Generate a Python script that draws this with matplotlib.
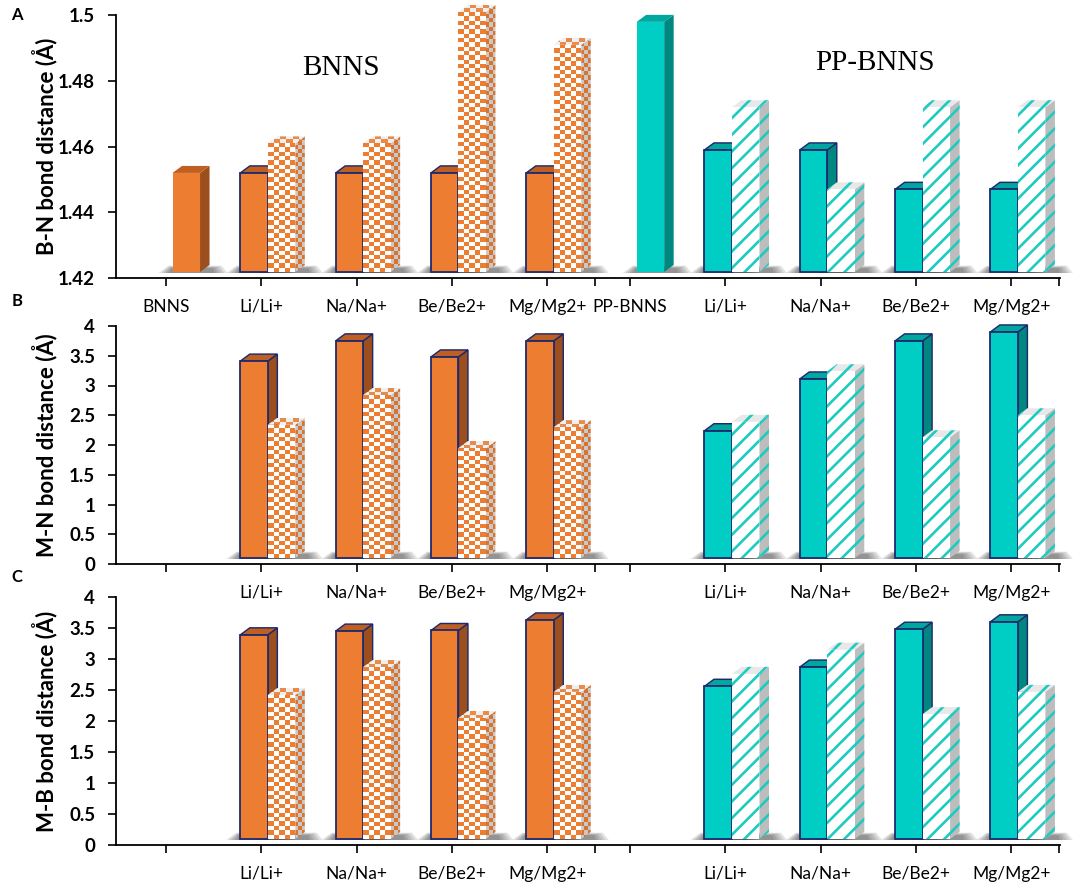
import numpy as np
import matplotlib
matplotlib.use('Agg')
import matplotlib.pyplot as plt
from matplotlib.patches import Polygon
from matplotlib.colors import ListedColormap
from matplotlib.ticker import FormatStrFormatter

plt.rcParams['font.family'] = ['Lato', 'DejaVu Sans']
plt.rcParams['hatch.linewidth'] = 1.9

nan = np.nan
categories = ['BNNS', 'Li/Li+', 'Na/Na+', 'Be/Be2+', 'Mg/Mg2+',
              'PP-BNNS', 'Li/Li+', 'Na/Na+', 'Be/Be2+', 'Mg/Mg2+']

# A : B-N bond distance
bn_pristine = [1.452, nan, nan, nan, nan, 1.498, nan, nan, nan, nan]
bn_neutral = [nan, 1.452, 1.452, 1.452, 1.452, nan, 1.459, 1.459, 1.447, 1.447]
bn_ion = [nan, 1.461, 1.461, 1.501, 1.491, nan, 1.472, 1.447, 1.472, 1.472]

# B : M-N bond distance
mn_neutral = [nan, 3.41, 3.75, 3.48, 3.75, nan, 2.24, 3.11, 3.75, 3.90]
mn_ion = [nan, 2.34, 2.84, 1.95, 2.30, nan, 2.39, 3.24, 2.13, 2.50]

# C : M-B bond distance
mb_neutral = [nan, 3.39, 3.45, 3.46, 3.63, nan, 2.56, 2.87, 3.48, 3.60]
mb_ion = [nan, 2.42, 2.87, 2.05, 2.47, nan, 2.76, 3.15, 2.11, 2.47]

ORANGE = dict(front='#ED7D31', side='#9C4F1C', top='#BF5F21',
              pat_side=['#C8C8C8', '#D8742F'], pat_top=['#EFEFEF', '#E88A4A'])
TEAL = dict(front='#00CDC3', side='#00877F', top='#00A79E', stripe='#1CCBC2')
EDGE = '#1F2A6E'

W, H = 1084, 883
fig = plt.figure(figsize=(W / 100, H / 100), dpi=100)

# axes boxes in pixels: left, top, right, bottom
boxes = [(116, 15.3, 1060, 278), (116, 326, 1060, 564), (116, 597, 1060, 845)]
xlim = (-0.525, 9.38)
pos = np.arange(10) - np.where(np.arange(10) >= 5, 0.13, 0.0)


def checker_fill(ax, poly, extent, nr, nc, colors, z):
    clip = Polygon(poly, closed=True, facecolor='none', edgecolor='none',
                   transform=ax.transData, clip_on=False)
    ax.add_patch(clip)
    arr = np.indices((nr, nc)).sum(axis=0) % 2
    im = ax.imshow(arr, extent=extent, origin='lower', aspect='auto',
                   interpolation='nearest', cmap=ListedColormap(colors),
                   vmin=0, vmax=1, zorder=z)
    im.set_clip_box(fig.bbox)
    im.set_clip_path(clip)


def draw_bar(ax, x0, w, y0, y1, dx, dy, pxx, pxy, col, kind, z):
    front = [(x0, y0), (x0 + w, y0), (x0 + w, y1), (x0, y1)]
    side = [(x0 + w, y0), (x0 + w + dx, y0 + dy), (x0 + w + dx, y1 + dy), (x0 + w, y1)]
    top = [(x0, y1), (x0 + dx, y1 + dy), (x0 + w + dx, y1 + dy), (x0 + w, y1)]

    # soft floor shadow, darker close to the bar
    for k in range(5):
        g = 1 - k * 0.18
        sh = [(x0 - 14 * pxx * g, y0 - 1 * pxy), (x0 + w + dx + 18 * pxx * g, y0 - 1 * pxy),
              (x0 + w + dx + 12 * pxx * g, y0 + dy * (0.4 + 0.5 * g)),
              (x0 - 4 * pxx * g, y0 + dy * (0.4 + 0.5 * g))]
        ax.add_patch(Polygon(sh, closed=True, facecolor='#2a2a2a', edgecolor='none',
                             alpha=0.13, zorder=1, clip_on=False))

    if kind in ('solid', 'plain'):
        ec = EDGE if kind == 'solid' else 'none'
        lw = 1.3 if kind == 'solid' else 0
        ax.add_patch(Polygon(side, closed=True, facecolor=col['side'], edgecolor=ec,
                             lw=lw * 0.8, zorder=z, clip_on=False))
        ax.add_patch(Polygon(top, closed=True, facecolor=col['top'], edgecolor=ec,
                             lw=lw * 0.8, zorder=z, clip_on=False))
        ax.add_patch(Polygon(front, closed=True, facecolor=col['front'], edgecolor=ec,
                             lw=lw, zorder=z + 0.1, clip_on=False))
    elif kind == 'checker':
        hpx = (y1 - y0) / pxy
        nr = max(1, int(round(hpx / 4.3)))
        checker_fill(ax, front, [x0, x0 + w, y0, y1], nr, 5,
                     ['white', col['front']], z + 0.1)
        checker_fill(ax, side, [x0 + w, x0 + w + dx, y0, y1 + dy], nr + 2, 3,
                     col['pat_side'], z)
        checker_fill(ax, top, [x0, x0 + w + dx, y1, y1 + dy], 2, 6,
                     col['pat_top'], z)
    elif kind == 'stripe':
        ax.add_patch(Polygon(side, closed=True, facecolor='#BDBDBD', edgecolor=col['stripe'],
                             hatch='//', lw=0, zorder=z, clip_on=False))
        ax.add_patch(Polygon(top, closed=True, facecolor='#E8E8E8', edgecolor=col['stripe'],
                             hatch='//', lw=0, zorder=z, clip_on=False))
        ax.add_patch(Polygon(front, closed=True, facecolor='white', edgecolor=col['stripe'],
                             hatch='//', lw=0, zorder=z + 0.1, clip_on=False))


panels = [
    ('A', 'B-N bond distance (Å)', bn_neutral, bn_ion, bn_pristine, (1.42, 1.5), 0.02, True),
    ('B', 'M-N bond distance (Å)', mn_neutral, mn_ion, None, (0.0, 4.0), 0.5, False),
    ('C', 'M-B bond distance (Å)', mb_neutral, mb_ion, None, (0.0, 4.0), 0.5, False),
]

for (letter, ylabel, neutral, ion, pristine, ylim, step, show_all), box in zip(panels, boxes):
    l, t, r, b = box
    ax = fig.add_axes([l / W, 1 - b / H, (r - l) / W, (b - t) / H])
    ax.patch.set_visible(False)
    ax.set_autoscale_on(False)
    ax.set_xlim(*xlim)
    ax.set_ylim(*ylim)

    pxx = (xlim[1] - xlim[0]) / (r - l)      # data x per pixel
    pxy = (ylim[1] - ylim[0]) / (b - t)      # data y per pixel
    dx, dy = 9.5 * pxx, 7 * pxy
    bw = 27.5 * pxx
    y0 = ylim[0] + 6 * pxy
    off_n, off_i = -21 * pxx, 6.5 * pxx

    for i in range(len(categories)):
        col = ORANGE if i < 5 else TEAL
        pat = 'checker' if i < 5 else 'stripe'
        z = 3 + i * 0.01
        if pristine is not None and not np.isnan(pristine[i]):
            draw_bar(ax, pos[i] + off_i, bw, y0, pristine[i], dx, dy, pxx, pxy, col, 'plain', z)
        if not np.isnan(neutral[i]):
            draw_bar(ax, pos[i] + off_n, bw, y0, neutral[i], dx, dy, pxx, pxy, col, 'solid', z)
        if not np.isnan(ion[i]):
            draw_bar(ax, pos[i] + off_i, bw, y0, ion[i], dx, dy, pxx, pxy, col, pat, z + 1)

    ax.set_xlim(*xlim)
    ax.set_ylim(*ylim)

    for s in ['top', 'right']:
        ax.spines[s].set_visible(False)
    for s in ['left', 'bottom']:
        ax.spines[s].set_linewidth(1.3)

    ax.set_yticks(np.arange(ylim[0], ylim[1] + step / 2, step))
    ax.yaxis.set_major_formatter(FormatStrFormatter('%g'))
    ax.set_xticks(pos)
    if show_all:
        ax.set_xticklabels(categories)
    else:
        ax.set_xticklabels(['' if c in ('BNNS', 'PP-BNNS') else c for c in categories])
    ax.set_xticks([4.5, xlim[1] - 0.01], minor=True)
    ax.tick_params(axis='x', which='both', direction='out', length=6, width=1.2,
                   pad=9, labelsize=12.5)
    ax.tick_params(axis='y', direction='out', length=6, width=1.2, pad=9, labelsize=13.5)
    for lab in ax.get_yticklabels():
        lab.set_fontweight('bold')

    ax.set_ylabel(ylabel, fontsize=16, fontweight='bold')
    ax.yaxis.set_label_coords(-0.0625, 0.5)

    fig.text(17 / W, 1 - [15, 301, 577]['ABC'.index(letter)] / H, letter,
             fontsize=12, fontweight='bold', ha='center', va='center')

    if show_all:
        ax.text(0.238, 0.80, 'BNNS', transform=ax.transAxes, fontsize=21,
                family='Liberation Serif', ha='center', va='center')
        ax.text(0.804, 0.817, 'PP-BNNS', transform=ax.transAxes, fontsize=21,
                family='Liberation Serif', ha='center', va='center')

fig.savefig('out.png', dpi=100)
